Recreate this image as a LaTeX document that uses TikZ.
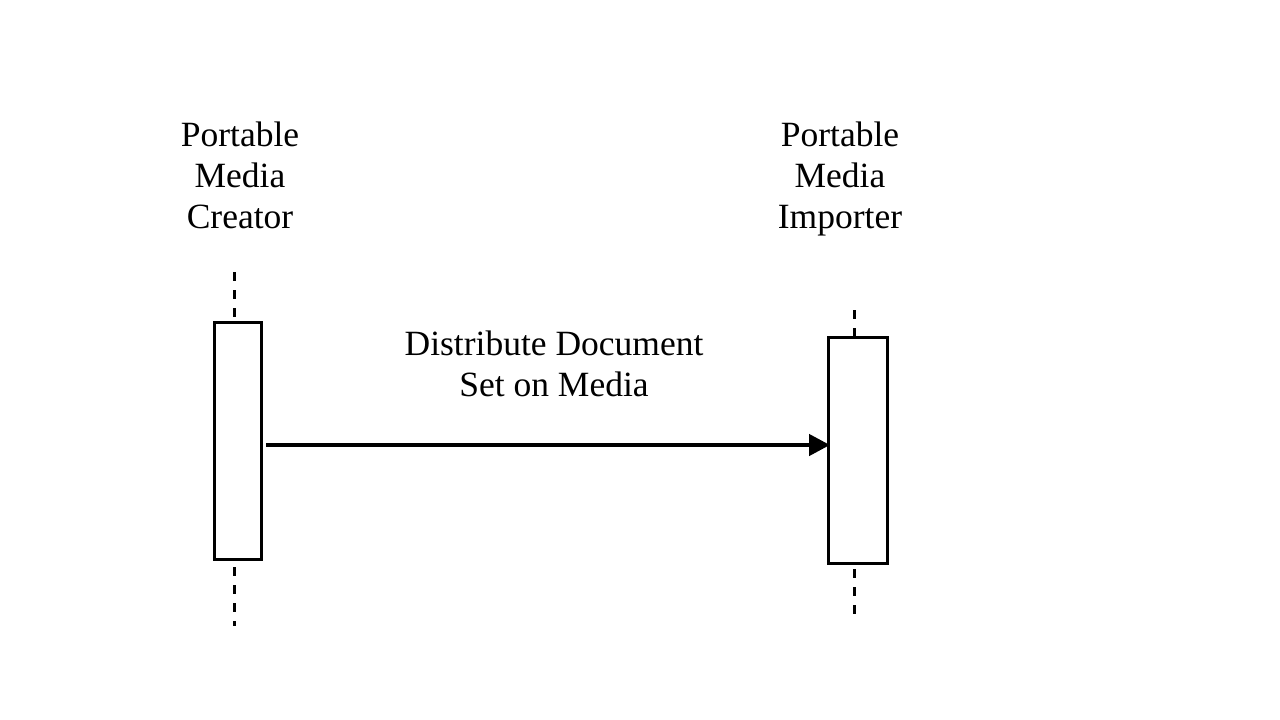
\documentclass[tikz,border=0pt]{standalone}
\usepackage{fontspec}
\setmainfont{Liberation Serif}
\usetikzlibrary{arrows.meta}
\begin{document}
\begin{tikzpicture}[x=1pt,y=-1pt,
  lbl/.style={align=center,anchor=base,inner sep=0pt,font=\fontsize{35.5}{41}\selectfont},
  actbox/.style={draw,line width=3pt,fill=white,inner sep=0pt},
  life/.style={line width=3pt,dash pattern=on 9pt off 9pt}]
\useasboundingbox (0,0) rectangle (1280,720);
% labels
\node[lbl] (tA) at (240,228) {Portable\\Media\\Creator};
\node[lbl] (tB) at (840,228) {Portable\\Media\\Importer};
\node[lbl] (msg) at (554,396) {Distribute Document\\Set on Media};
% lifelines
\coordinate (a1) at (234,272);
\coordinate (a2) at (234,322);
\coordinate (a3) at (234,567);
\coordinate (a4) at (234,626);
\coordinate (b1) at (854,310);
\coordinate (b2) at (854,337);
\coordinate (b3) at (854,569);
\coordinate (b4) at (854,616);
\draw[life] (a1) -- (a2);
\draw[life] (a3) -- (a4);
\draw[life] (b1) -- (b2);
\draw[life] (b3) -- (b4);
% activation boxes
\node[actbox,minimum width=47pt,minimum height=237pt] (A) at (237.5,440.5) {};
\node[actbox,minimum width=59pt,minimum height=226pt] (B) at (857.5,450) {};
% message
\coordinate (s) at (266,445);
\coordinate (e) at (830,445);
\draw[line width=4.5pt,-{Triangle[length=21pt,width=21pt]}] (s) -- (e);
\end{tikzpicture}
\end{document}
